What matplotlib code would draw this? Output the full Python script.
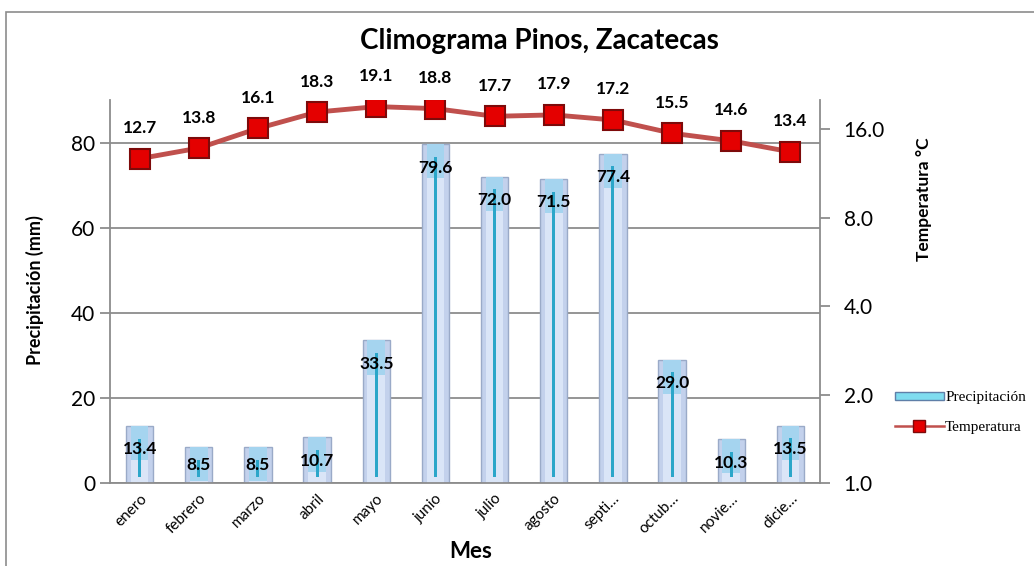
import matplotlib.pyplot as plt
import matplotlib.patches as mpatches
from matplotlib.lines import Line2D
from matplotlib.ticker import FixedLocator, FixedFormatter
import numpy as np

# data
months = ["enero", "febrero", "marzo", "abril", "mayo", "junio",
          "julio", "agosto", "septi…", "octub…", "novie…", "dicie…"]
precip = [13.4, 8.5, 8.5, 10.7, 33.5, 79.6, 72.0, 71.5, 77.4, 29.0, 10.3, 13.5]
temps = [12.7, 13.8, 16.1, 18.3, 19.1, 18.8, 17.7, 17.9, 17.2, 15.5, 14.6, 13.4]
temp_ticks = [1, 2, 4, 8, 16]

font = ["Lato", "DejaVu Sans"]
plt.rcParams["font.family"] = font

fig = plt.figure(figsize=(10.34, 5.66), dpi=100)
ax = fig.add_axes([0.1064, 0.1466, 0.6866, 0.6767])
x = np.arange(len(months))
p_arr = np.array(precip)

# outer chart border
fig.patches.append(mpatches.Rectangle((0.006, -0.01), 1.2, 0.989, transform=fig.transFigure,
                                      fill=False, edgecolor="#8c8c8c", linewidth=1.2))

# precipitation bars (layered to fake the bevelled look)
ax.bar(x, precip, width=0.46, color="#c3d1ec", edgecolor="#9aaac8", linewidth=1, zorder=2)
ax.bar(x, precip, width=0.30, color="#dae5f7", linewidth=0, zorder=2.1)
ax.bar(x, np.minimum(p_arr, 8), bottom=p_arr - np.minimum(p_arr, 8), width=0.30,
       color="#8fcdec", alpha=0.7, linewidth=0, zorder=2.15)
ax.bar(x, p_arr - 4.5, bottom=1.5, width=0.05, color="#2ba6c9", linewidth=0, zorder=2.2)

for xi, p in zip(x, precip):
    ax.text(xi, max(p - 5.5, 4.2), f"{p:.1f}", ha="center", va="center",
            fontsize=12.5, fontweight="bold", color="black", zorder=5)

ax.set_xlim(-0.5, len(months) - 0.5)
ax.set_ylim(0, 90)
ax.set_yticks([0, 20, 40, 60, 80])
ax.grid(axis="y", color="#8c8c8c", linewidth=1.3, zorder=0)
ax.set_axisbelow(True)
ax.tick_params(axis="y", labelsize=15, length=7, color="#8c8c8c", width=1.3)
ax.tick_params(axis="x", length=0, labelsize=11, pad=6)
ax.set_xticks(x)
ax.set_xticklabels(months, rotation=45, ha="right", va="top", rotation_mode="anchor")
for side in ["top", "right"]:
    ax.spines[side].set_visible(False)
for side in ["left", "bottom"]:
    ax.spines[side].set_color("#8c8c8c")
    ax.spines[side].set_linewidth(1.3)

# temperature on a log2 secondary axis
ax2 = ax.twinx()
ax2.set_yscale("log", base=2)
ax2.set_ylim(1, 2 ** 4.33)
ax2.yaxis.set_major_locator(FixedLocator(temp_ticks))
ax2.yaxis.set_major_formatter(FixedFormatter([f"{t:.1f}" for t in temp_ticks]))
ax2.yaxis.set_minor_locator(FixedLocator([]))
ax2.tick_params(axis="y", labelsize=15, length=7, color="#8c8c8c", width=1.3, pad=10)
for side in ["top", "left", "bottom"]:
    ax2.spines[side].set_visible(False)
ax2.spines["right"].set_color("#8c8c8c")
ax2.spines["right"].set_linewidth(1.3)

ax2.plot(x, temps, color="#c0504d", linewidth=3.5, zorder=3)
ax2.plot(x, temps, linestyle="none", marker="s", markersize=14, markerfacecolor="#e40000",
         markeredgecolor="#7d0a0a", markeredgewidth=1.5, zorder=4)
for xi, t in zip(x, temps):
    ax2.annotate(f"{t:.1f}", (xi, t), xytext=(0, 22), textcoords="offset points",
                 ha="center", va="center", fontsize=12.5, fontweight="bold")

# titles and labels
fig.text(0.522, 0.928, "Climograma Pinos, Zacatecas", ha="center", va="center",
         fontsize=20, fontweight="bold")
fig.text(0.034, 0.487, "Precipitación (mm)", rotation=90, ha="center", va="center",
         fontsize=13, fontweight="bold")
fig.text(0.894, 0.648, "Temperatura °C", rotation=90, ha="center", va="center",
         fontsize=12.5, fontweight="bold")
fig.text(0.455, 0.025, "Mes", ha="center", va="center", fontsize=16, fontweight="bold")

# legend
handles = [mpatches.Patch(facecolor="#7fdcef", edgecolor="#5f7fa8"),
           Line2D([], [], color="#c0504d", linewidth=1.8, marker="s", markersize=8,
                  markerfacecolor="#e40000", markeredgecolor="#7d0a0a")]
fig.legend(handles, ["Precipitación", "Temperatura"], loc="center left",
           bbox_to_anchor=(0.852, 0.271), frameon=False, handlelength=3.2,
           handleheight=0.45, labelspacing=1.1, handletextpad=0.1,
           prop={"family": "Liberation Serif", "size": 11})

fig.savefig("out.png", dpi=100)
